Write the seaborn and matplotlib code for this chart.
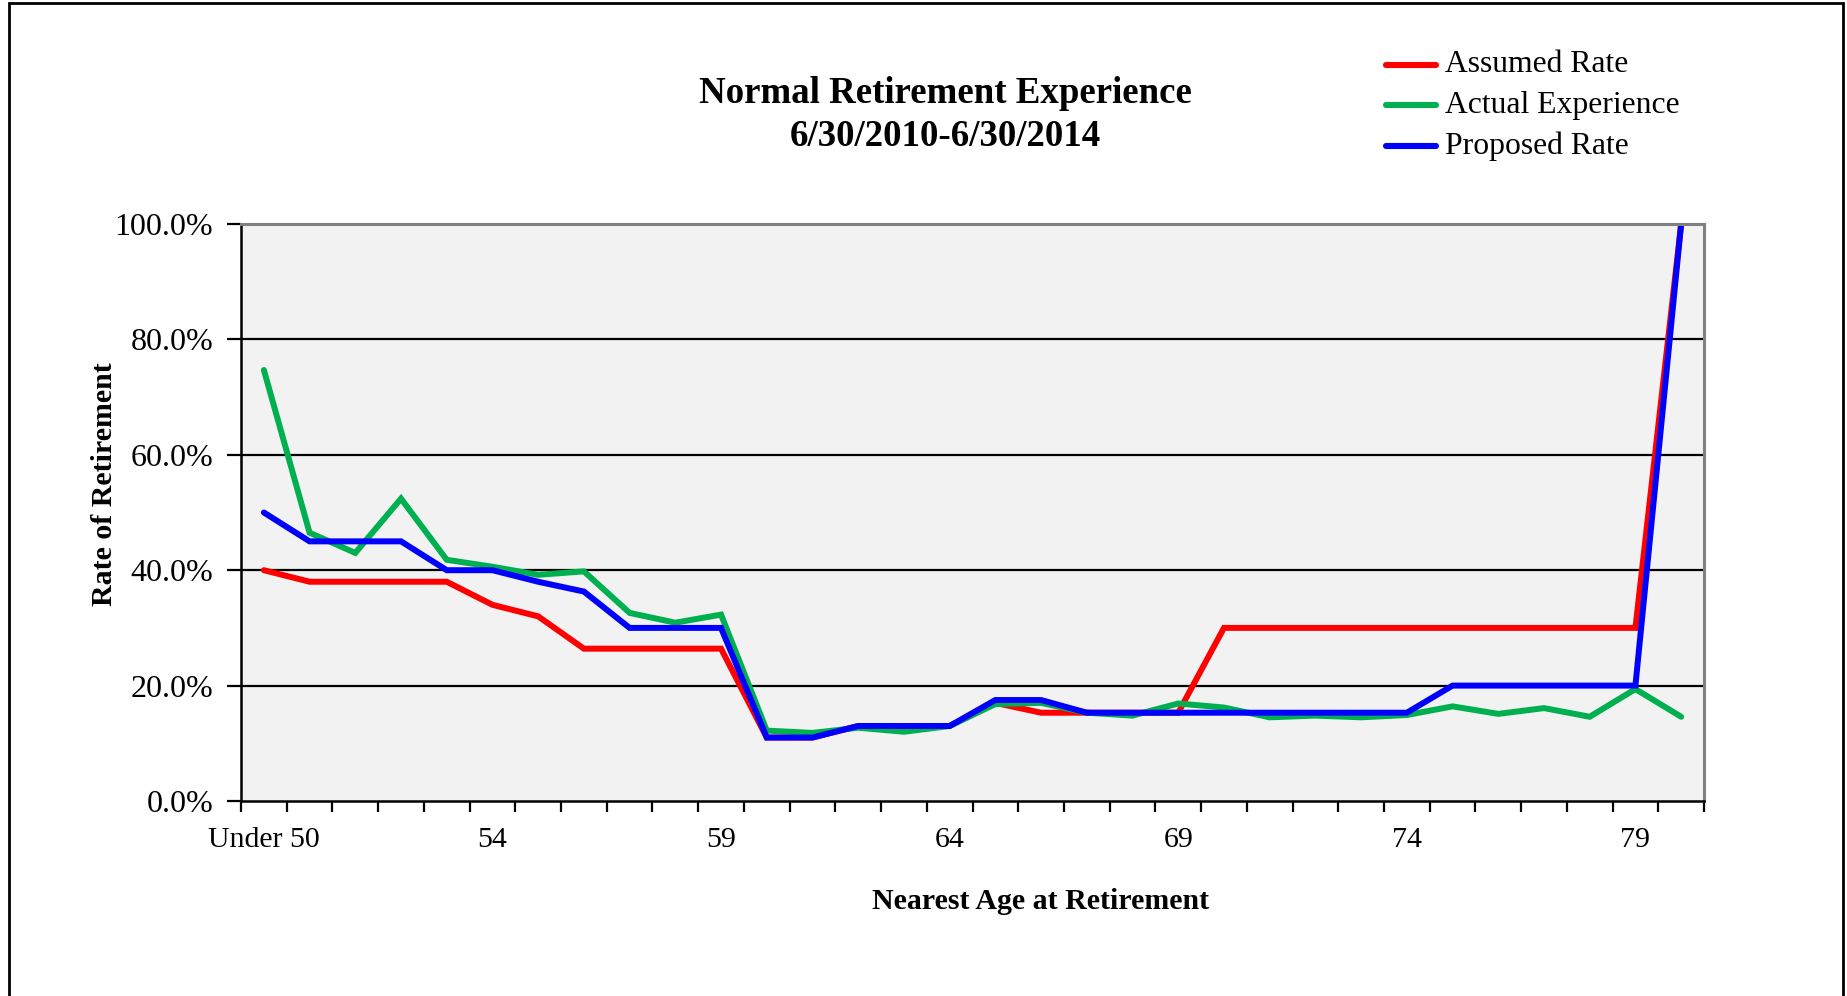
import matplotlib
matplotlib.use("Agg")
import matplotlib.pyplot as plt
from matplotlib.patches import Rectangle
from matplotlib.ticker import FixedLocator, FuncFormatter
import seaborn as sns
import pandas as pd

# Age categories: "Under 50", then 50 through 80
ages = ["Under 50"] + [str(a) for a in range(50, 81)]

assumed_rate = [40, 38, 38, 38, 38, 34, 32, 26.4, 26.4, 26.4, 26.4, 11, 11, 13, 13, 13,
                17, 15.3, 15.3, 15.3, 15.3, 30, 30, 30, 30, 30, 30, 30, 30, 30, 30, 100]
actual_experience = [74.7, 46.5, 43.0, 52.4, 41.8, 40.6, 39.2, 39.8, 32.6, 30.9, 32.3,
                     12.2, 11.8, 12.7, 12.0, 13.0, 16.8, 17.0, 15.3, 14.8, 16.9, 16.2,
                     14.5, 14.8, 14.5, 14.9, 16.4, 15.1, 16.1, 14.6, 19.4, 14.6]
proposed_rate = [50, 45, 45, 45, 40, 40, 38, 36.3, 30, 30, 30, 11, 11, 13, 13, 13,
                 17.5, 17.5, 15.3, 15.3, 15.3, 15.3, 15.3, 15.3, 15.3, 15.3, 20, 20, 20, 20, 20, 100]

series_names = ["Assumed Rate", "Actual Experience", "Proposed Rate"]
series_colors = ["#FF0000", "#00B050", "#0000FF"]

df = pd.DataFrame({
    "Age": ages * 3,
    "Rate": assumed_rate + actual_experience + proposed_rate,
    "Series": [series_names[0]] * len(ages) + [series_names[1]] * len(ages)
              + [series_names[2]] * len(ages),
})

sns.set_theme(style="white")
plt.rcParams["font.family"] = ["Liberation Serif", "DejaVu Serif"]
plt.rcParams["text.color"] = "black"
plt.rcParams["xtick.color"] = "black"
plt.rcParams["ytick.color"] = "black"

W, H = 1847, 996
fig = plt.figure(figsize=(W / 100, H / 100), dpi=100)
ax = fig.add_axes([241 / W, 1 - 801 / H, (1704 - 241) / W, (801 - 224) / H])
ax.set_facecolor("#F2F2F2")

sns.lineplot(data=df, x="Age", y="Rate", hue="Series", hue_order=series_names,
             palette=series_colors, sort=False, linewidth=4.3, ax=ax,
             legend=False, solid_capstyle="round", solid_joinstyle="miter")

n = len(ages)
ax.set_xlim(-0.5, n - 0.5)
ax.set_ylim(0, 100)

# gridlines
for v in [20, 40, 60, 80]:
    ax.axhline(v, color="black", linewidth=1.6, zorder=0.5)

# x axis: labels every 5th category, ticks at category boundaries
major = list(range(0, n, 5))
ax.xaxis.set_major_locator(FixedLocator(major))
ax.set_xticklabels([ages[i] for i in major])
ax.xaxis.set_minor_locator(FixedLocator([i - 0.5 for i in range(n + 1)]))
ax.tick_params(axis="x", which="major", length=0, pad=19, labelsize=21.5,
               labelcolor="black")
ax.tick_params(axis="x", which="minor", length=8, width=1.6, color="black",
               direction="out", bottom=True)

ax.set_yticks([0, 20, 40, 60, 80, 100])
ax.yaxis.set_major_formatter(FuncFormatter(lambda v, p: f"{v:.1f}%"))
ax.tick_params(axis="y", which="major", length=10, width=1.6, color="black",
               direction="out", left=True, pad=10, labelsize=23, labelcolor="black")

for side in ["left", "bottom"]:
    ax.spines[side].set_color("black")
    ax.spines[side].set_linewidth(1.8)
for side in ["top", "right"]:
    ax.spines[side].set_color("#808080")
    ax.spines[side].set_linewidth(2.2)
ax.set_xlabel("")
ax.set_ylabel("")

# titles and axis labels
fig.text(945 / W, 1 - 93.5 / H, "Normal Retirement Experience", ha="center", va="center",
         fontsize=26.6, fontweight="bold", color="black")
fig.text(945 / W, 1 - 136 / H, "6/30/2010-6/30/2014", ha="center", va="center",
         fontsize=26.6, fontweight="bold", color="black")
fig.text(1041 / W, 1 - 901 / H, "Nearest Age at Retirement", ha="center", va="center",
         fontsize=21.5, fontweight="bold", color="black")
fig.text(104 / W, 1 - 484 / H, "Rate of Retirement", ha="center", va="center",
         rotation=90, fontsize=21.5, fontweight="bold", color="black")

# legend
for i, (name, col) in enumerate(zip(series_names, series_colors)):
    y = 1 - (65 + 40.5 * i) / H
    fig.add_artist(plt.Line2D([1386 / W, 1436 / W], [y, y], color=col, linewidth=4.4,
                              solid_capstyle="round", transform=fig.transFigure))
    fig.text(1445 / W, y, name, ha="left", va="center", fontsize=22.8, color="black")

# chart border
fig.add_artist(Rectangle((9 / W, -0.05), (1843 - 9) / W, 1.05 - 3 / H,
                         transform=fig.transFigure, fill=False, edgecolor="black",
                         linewidth=2))

fig.savefig("out.png", dpi=100)
